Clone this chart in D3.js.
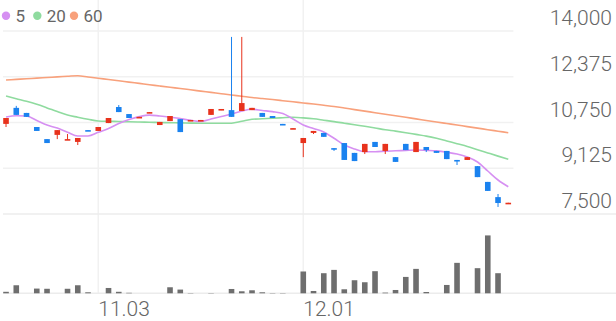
<!DOCTYPE html>
<html>
<head>
<meta charset="utf-8">
<script src="https://cdn.jsdelivr.net/npm/d3@7"></script>
<style>
  html, body { margin: 0; padding: 0; background: #fff; overflow: hidden; }
</style>
</head>
<body>
<div id="chart"></div>
<script>
// svg size
const width = 616;
const height = 321;

// data
const dates = [
  "10.21", "10.22", "10.23", "10.24", "10.27", "10.28", "10.29", "10.30", "10.31",
  "11.03", "11.04", "11.05", "11.06", "11.07", "11.10", "11.11", "11.12", "11.13", "11.14",
  "11.17", "11.18", "11.19", "11.20", "11.21", "11.24", "11.25", "11.26", "11.27", "11.28",
  "12.01", "12.02", "12.03", "12.04", "12.05", "12.08", "12.09", "12.10", "12.11", "12.12",
  "12.15", "12.16", "12.17", "12.18", "12.19", "12.22", "12.23", "12.24", "12.26", "12.29", "12.30"
];
const open = [
  10700, 11270, 11090, 10590, 10160, 10310, 10130, 10060, 10480, 10450,
  10730, 11300, 11050, 10910, 11090, 10660, 10800, 10870, 10800, 10800,
  11020, 11190, 11190, 11160, 11190, 11090, 10980, 10700, 10520, 10020,
  10380, 10380, 9840, 10020, 9670, 9700, 10060, 9740, 9520, 9990,
  9700, 9880, 9740, 9740, 9420, 9420, 9200, 8640, 8100, 7880
];
const close = [
  10910, 11020, 10950, 10450, 10020, 10480, 10160, 10200, 10450, 10590,
  10910, 11120, 10910, 10950, 11120, 10770, 10980, 10410, 10840, 10840,
  11230, 11230, 10950, 11440, 11270, 10950, 10910, 10660, 10550, 10200,
  10450, 10240, 9810, 9420, 9380, 9990, 9880, 9990, 9350, 9770,
  10060, 9770, 9670, 9450, 9380, 9520, 8810, 8320, 7890, 7900
];
const high = [
  10910, 11340, 11090, 10590, 10160, 10480, 10340, 10200, 10480, 10590,
  10910, 11370, 11050, 10950, 11120, 10770, 10980, 10870, 10840, 10840,
  11230, 11230, 13790, 13790, 11270, 11090, 10980, 10700, 10550, 10200,
  10450, 10380, 9840, 10020, 9670, 9990, 10060, 9990, 9520, 9990,
  10060, 9880, 9740, 9740, 9420, 9520, 9200, 8640, 8210, 7900
];
const low = [
  10590, 11020, 10950, 10450, 10020, 10160, 10130, 9950, 10450, 10450,
  10730, 11120, 10910, 10910, 11090, 10660, 10800, 10410, 10800, 10800,
  11020, 11190, 10950, 11160, 11190, 10950, 10910, 10660, 10520, 9520,
  10340, 10240, 9740, 9420, 9380, 9630, 9880, 9630, 9350, 9770,
  9700, 9700, 9670, 9450, 9240, 9420, 8810, 8320, 7750, 7880
];
// volume, thousand shares
const volume = [
  30, 160, 0, 94, 90, 0, 90, 160, 20, 0,
  106, 30, 10, 0, 0, 0, 120, 74, 6, 0,
  6, 0, 86, 40, 60, 20, 6, 6, 0, 434,
  46, 400, 466, 80, 260, 220, 440, 14, 66, 326,
  486, 26, 0, 166, 606, 0, 500, 1152, 400, 0
];
const ma5 = [
  10945, 10991, 10981, 10824, 10661, 10551, 10405, 10270, 10270, 10402,
  10537, 10718, 10856, 10959, 11013, 10981, 10945, 10888, 10832, 10785,
  10874, 10963, 11052, 11158, 11219, 11176, 11137, 11070, 10874, 10661,
  10537, 10412, 10189, 9951, 9809, 9713, 9713, 9730, 9745, 9759,
  9773, 9759, 9741, 9695, 9631, 9524, 9347, 9027, 8708, 8469
];
const ma20 = [
  11691, 11595, 11503, 11396, 11269, 11137, 11013, 10938, 10867, 10803,
  10793, 10786, 10778, 10768, 10761, 10750, 10743, 10736, 10729, 10722,
  10722, 10722, 10725, 10793, 10864, 10881, 10903, 10920, 10935, 10913,
  10881, 10832, 10782, 10725, 10668, 10615, 10555, 10494, 10444, 10388,
  10327, 10267, 10189, 10093, 9997, 9901, 9784, 9670, 9556, 9443
];
const ma60 = [
  12260, 12281, 12302, 12327, 12348, 12370, 12391, 12412, 12366, 12320,
  12277, 12231, 12185, 12139, 12093, 12046, 12000, 11958, 11911, 11865,
  11819, 11773, 11727, 11684, 11638, 11600, 11565, 11525, 11485, 11445,
  11405, 11361, 11318, 11265, 11208, 11155, 11098, 11045, 10988, 10935,
  10878, 10824, 10768, 10714, 10661, 10604, 10551, 10494, 10441, 10388
];
const priceTicks = [7500, 9125, 10750, 12375, 14000];
const dateTicks = ["11.03", "12.01"];
const maNames = ["5", "20", "60"];

// look
const fontFamily = "Roboto, 'Noto Sans', sans-serif";
const upColor = "#e8321c";
const downColor = "#1a82ef";
const volColor = "#6e6e6e";
const gridColor = "#f1f1f1";
const axisColor = "#ececec";
const textColor = "#666";
const maColors = ["#d690f2", "#8fdb9f", "#f8a17c"];

const plotLeft = 3;
const plotRight = 513.4;
const priceTop = 31;
const priceBottom = 214;
const volBottom = 293.3;

const svg = d3.select("#chart").append("svg")
  .attr("width", width)
  .attr("height", height)
  .attr("viewBox", [0, 0, width, height]);

const idx = d3.range(dates.length);

const x = d3.scaleBand()
  .domain(dates)
  .range([0.9, plotRight])
  .padding(0);
const cx = i => x(dates[i]) + x.bandwidth() / 2;
const bodyW = 5.6;

const y = d3.scaleLinear()
  .domain([7500, 14000])
  .range([priceBottom, priceTop]);

const yVol = d3.scaleLinear()
  .domain([0, d3.max(volume) * 1.37])
  .range([volBottom, priceBottom]);

// grid
const grid = svg.append("g");
grid.selectAll("line.h")
  .data(priceTicks.slice(1))
  .join("line")
  .attr("class", "h")
  .attr("x1", plotLeft).attr("x2", plotRight)
  .attr("y1", d => y(d)).attr("y2", d => y(d))
  .attr("stroke", gridColor)
  .attr("stroke-width", 1.5);

grid.selectAll("line.v")
  .data(dateTicks)
  .join("line")
  .attr("class", "v")
  .attr("x1", d => x(d) + x.bandwidth() / 2)
  .attr("x2", d => x(d) + x.bandwidth() / 2)
  .attr("y1", 0).attr("y2", volBottom)
  .attr("stroke", gridColor)
  .attr("stroke-width", 1.5);

grid.selectAll("line.sep")
  .data([priceBottom, volBottom])
  .join("line")
  .attr("class", "sep")
  .attr("x1", plotLeft).attr("x2", width)
  .attr("y1", d => d).attr("y2", d => d)
  .attr("stroke", axisColor)
  .attr("stroke-width", 1.5);

// price labels
svg.append("g").selectAll("text")
  .data(priceTicks)
  .join("text")
  .attr("x", 612)
  .attr("y", d => y(d) - 6)
  .attr("text-anchor", "end")
  .attr("font-family", fontFamily)
  .attr("font-weight", 300)
  .attr("font-size", 21)
  .attr("fill", textColor)
  .text(d => d3.format(",")(d));

// date labels
svg.append("g").selectAll("text")
  .data(dateTicks)
  .join("text")
  .attr("x", d => x(d) + x.bandwidth() / 2)
  .attr("y", 316)
  .attr("text-anchor", "start")
  .attr("font-family", fontFamily)
  .attr("font-weight", 300)
  .attr("font-size", 21)
  .attr("fill", textColor)
  .text(d => d);

// moving averages
const line = d3.line()
  .x((d, i) => cx(i))
  .y(d => y(d))
  .curve(d3.curveMonotoneX);

svg.append("g").selectAll("path")
  .data([ma60, ma20, ma5])
  .join("path")
  .attr("d", line)
  .attr("fill", "none")
  .attr("stroke", (d, i) => maColors[2 - i])
  .attr("stroke-width", 1.6);

// candles
const candles = svg.append("g").selectAll("g")
  .data(idx)
  .join("g");

candles.append("line")
  .attr("x1", cx).attr("x2", cx)
  .attr("y1", i => y(high[i]))
  .attr("y2", i => y(low[i]))
  .attr("stroke", i => close[i] >= open[i] ? upColor : downColor)
  .attr("stroke-width", 1);

candles.append("rect")
  .attr("x", i => cx(i) - bodyW / 2)
  .attr("width", bodyW)
  .attr("y", i => y(Math.max(open[i], close[i])))
  .attr("height", i => Math.max(1.6, Math.abs(y(open[i]) - y(close[i]))))
  .attr("fill", i => close[i] >= open[i] ? upColor : downColor);

// volume
svg.append("g").selectAll("rect")
  .data(idx.filter(i => volume[i] > 0))
  .join("rect")
  .attr("x", i => cx(i) - bodyW / 2)
  .attr("width", bodyW)
  .attr("y", i => yVol(volume[i]))
  .attr("height", i => volBottom - yVol(volume[i]))
  .attr("fill", volColor);

// legend
const legend = svg.append("g").selectAll("g")
  .data(maNames)
  .join("g")
  .attr("transform", (d, i) => `translate(${[6, 37.3, 74][i]}, 15.7)`);

legend.append("circle")
  .attr("r", 4.2)
  .attr("fill", (d, i) => maColors[i]);

legend.append("text")
  .attr("x", 9.5)
  .attr("y", 6)
  .attr("font-family", fontFamily)
  .attr("font-size", 17)
  .attr("fill", textColor)
  .text(d => d);
</script>
</body>
</html>
